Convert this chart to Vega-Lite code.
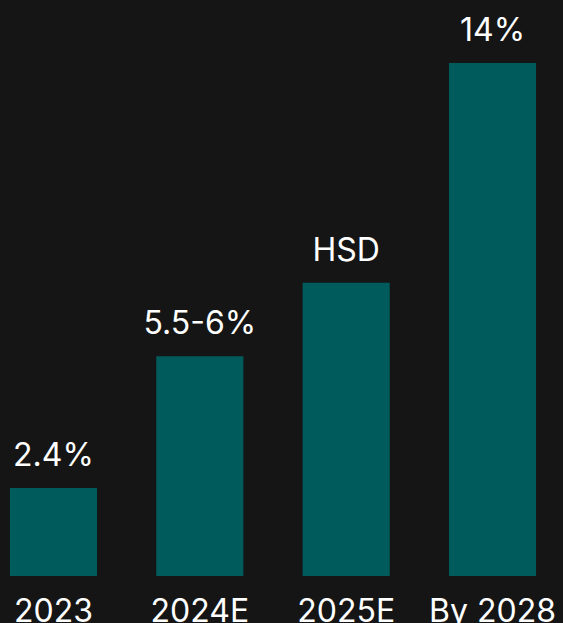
{
  "$schema": "https://vega.github.io/schema/vega-lite/v6.json",
  "autosize": {"type": "none"},
  "width": 546,
  "height": 513,
  "padding": {"left": 0, "top": 63, "right": 17, "bottom": 47},
  "background": "#151515",
  "config": {"view": {"stroke": null}},
  "data": {"values": [
    {"year": "2023", "value": 2.4, "label": "2.4%"},
    {"year": "2024E", "value": 6, "label": "5.5-6%"},
    {"year": "2025E", "value": 8, "label": "HSD"},
    {"year": "By 2028", "value": 14, "label": "14%"}
  ]},
  "encoding": {
    "x": {"field": "year", "type": "nominal", "sort": null,
      "scale": {"paddingInner": 0.405, "paddingOuter": 0.068},
      "axis": {"title": null, "domain": false, "ticks": false, "tickSize": 0, "labelAngle": 0,
        "labelFont": "Inter", "labelFontSize": 32, "labelColor": "#ffffff",
        "labelBaseline": "alphabetic", "labelPadding": 45}},
    "y": {"field": "value", "type": "quantitative", "scale": {"domain": [0, 14]}, "axis": null}
  },
  "layer": [
    {"mark": {"type": "bar", "color": "#005c5c"}},
    {"mark": {"type": "text", "font": "Inter", "fontSize": 32, "color": "#ffffff", "baseline": "alphabetic", "dy": -22},
      "encoding": {"text": {"field": "label"}}}
  ]
}
